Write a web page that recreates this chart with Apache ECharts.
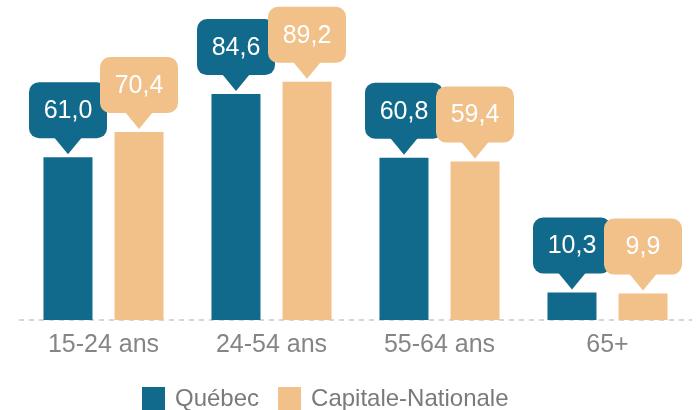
<!doctype html>
<html>
<head>
<meta charset="UTF-8">
<title>Taux d'emploi</title>
<script src="https://cdn.jsdelivr.net/npm/echarts@6/dist/echarts.min.js"></script>
<style>
  html, body { margin: 0; padding: 0; background: #fff; }
  #main { width: 696px; height: 410px; }
</style>
</head>
<body>
<div id="main"></div>
<script>
// données
var categories = ['15-24 ans', '24-54 ans', '55-64 ans', '65+'];
var quebec = [61.0, 84.6, 60.8, 10.3];
var capitale = [70.4, 89.2, 59.4, 9.9];
var seriesNames = ['Québec', 'Capitale-Nationale'];

var teal = '#116a8b';
var sand = '#f2c089';
var font = 'Liberation Sans, Arial, sans-serif';

var barW = 49, gap = 22;

// bulle au-dessus de chaque barre
function bubble(color, side) {
  return function (params, api) {
    var v = api.value(1);
    var p = api.coord([api.value(0), v]);
    var cx = p[0] + side * (barW + gap) / 2;
    var tip = p[1] - 3;
    var triH = 16, triW = 28, w = 78, h = 56;
    var top = tip - triH - h;
    return {
      type: 'group',
      children: [
        { type: 'rect', shape: { x: cx - w / 2, y: top, width: w, height: h, r: 10 }, style: { fill: color } },
        { type: 'polygon', shape: { points: [[cx - triW / 2, top + h - 1], [cx + triW / 2, top + h - 1], [cx, tip]] }, style: { fill: color } },
        { type: 'text', style: {
            text: v.toFixed(1).replace('.', ','), x: cx, y: top + h / 2 + 1,
            align: 'center', verticalAlign: 'middle', textAlign: 'center', textVerticalAlign: 'middle',
            fill: '#fff', fontSize: 25, fontFamily: font } }
      ]
    };
  };
}

var myChart = echarts.init(document.getElementById('main'));
var option = {
  animation: false,
  grid: { left: 19.5, right: 4.5, top: 53, bottom: 90 },
  legend: {
    data: seriesNames,
    left: 142, top: 387, padding: 0,
    icon: 'rect', itemWidth: 23, itemHeight: 24, itemGap: 19,
    textStyle: { color: '#7a7a7a', fontSize: 24, fontFamily: font, padding: [0, 0, 0, 5] }
  },
  xAxis: {
    type: 'category',
    data: categories,
    axisTick: { show: false },
    axisLine: { lineStyle: { color: '#c8c8c8', type: [4, 6], width: 1.5 } },
    axisLabel: { color: '#858585', fontSize: 25, fontFamily: font, margin: 13 }
  },
  yAxis: { type: 'value', min: 0, max: 100, show: false, splitLine: { show: false } },
  series: [
    { name: seriesNames[0], type: 'bar', data: quebec, barWidth: barW, barGap: '45%', itemStyle: { color: teal } },
    { name: seriesNames[1], type: 'bar', data: capitale, barWidth: barW, itemStyle: { color: sand } },
    { name: 'bulleQ', type: 'custom', renderItem: bubble(teal, -1), data: quebec.map(function (v, i) { return [i, v]; }), z: 5 },
    { name: 'bulleC', type: 'custom', renderItem: bubble(sand, 1), data: capitale.map(function (v, i) { return [i, v]; }), z: 6 }
  ]
};
myChart.setOption(option);
</script>
</body>
</html>
